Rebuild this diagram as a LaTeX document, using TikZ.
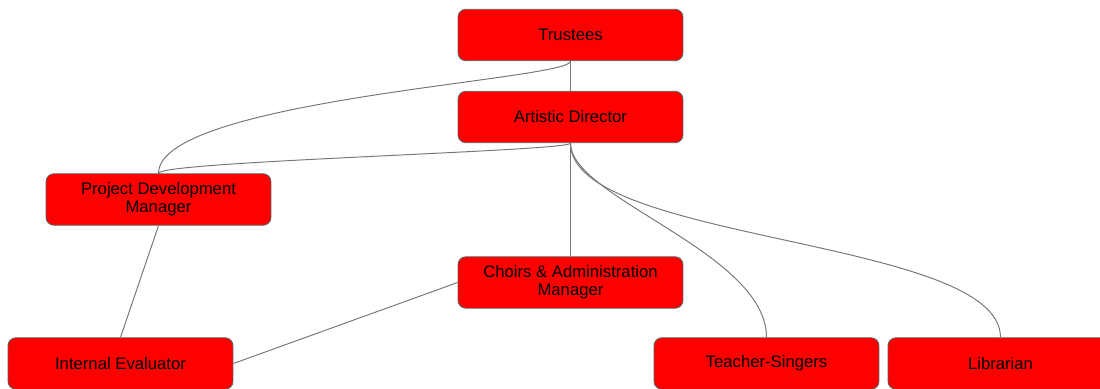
\documentclass[tikz,border=0pt]{standalone}
\usepackage{fontspec}
\setmainfont{Liberation Sans}
\usepackage{tikz}
\usepackage{xcolor}
\definecolor{boxred}{RGB}{255,0,0}
\definecolor{rimgray}{RGB}{95,95,95}
\definecolor{linkgray}{RGB}{118,118,118}

\begin{document}
\begin{tikzpicture}[x=0.02cm,y=-0.02cm,
    role/.style={draw=rimgray,line width=0.5pt,fill=boxred,rounded corners=0.16cm,
        minimum width=4.5cm,minimum height=1.03cm,inner sep=1pt,align=center,
        font=\fontsize{9.5}{10.4}\selectfont},
    link/.style={draw=linkgray,line width=0.55pt}]
    \useasboundingbox (0,0) rectangle (1100,389);
    % boxes
    \node[role] (trustees) at (570.5,35) {Trustees};
    \node[role] (director) at (570.5,117) {Artistic Director};
    \node[role] (projdev) at (158.5,199.5) {Project Development\\Manager};
    \node[role] (choirs) at (570.5,282.5) {Choirs \& Administration\\Manager};
    \node[role] (evaluator) at (120.5,363.5) {Internal Evaluator};
    \node[role] (teachers) at (766.5,363.5) {Teacher-Singers};
    \node[role] (librarian) at (1000.5,363.5) {Librarian};
    % connectors
    \draw[link] (trustees.south) -- (director.north);
    \draw[link] (trustees.south) .. controls +(0,19) and +(0,-74) .. (projdev.north);
    \draw[link] (director.south) .. controls +(0,8) and +(0,-12) .. (projdev.north);
    \draw[link] (director.south) -- (choirs.north);
    \draw[link] (director.south) .. controls +(0,55) and +(0,-85) .. (teachers.north);
    \draw[link] (director.south) .. controls +(0,100) and +(0,-100) .. (librarian.north);
    \draw[link] (projdev.south) -- (evaluator.north);
    \draw[link] (choirs.west) -- (evaluator.east);
\end{tikzpicture}
\end{document}
